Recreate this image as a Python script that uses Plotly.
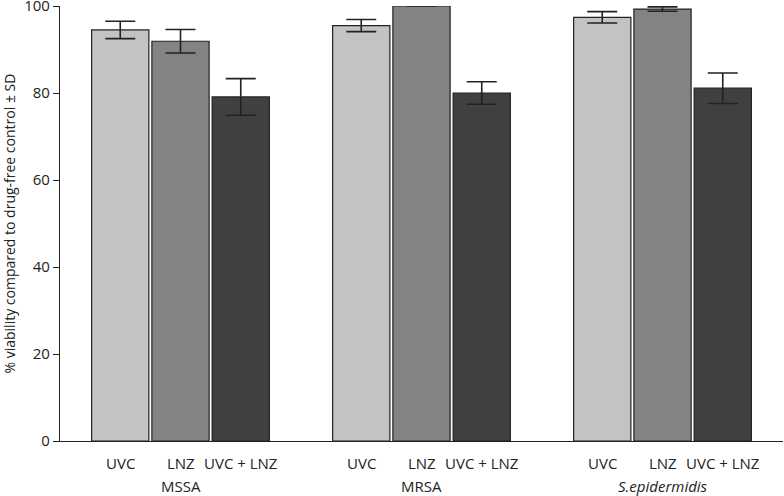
import plotly.graph_objects as go

groups = ["MSSA", "MRSA", "<i>S.epidermidis</i>"]
treatments = ["UVC", "LNZ", "UVC + LNZ"]
colors = ["#c3c3c3", "#838383", "#404040"]
values = {
    "UVC": [94.5, 95.5, 97.4],
    "LNZ": [91.9, 100.0, 99.3],
    "UVC + LNZ": [79.1, 80.0, 81.1],
}
errors = {
    "UVC": [2.0, 1.4, 1.3],
    "LNZ": [2.7, None, 0.5],
    "UVC + LNZ": [4.2, 2.6, 3.5],
}
yticks = [0, 20, 40, 60, 80, 100]
ytitle = "% viability compared to drug-free control ± SD"

FONT = "Open Sans, DejaVu Sans, sans-serif"
INK = "#222222"
fig = go.Figure()
for t, c in zip(treatments, colors):
    fig.add_trace(go.Bar(
        x=list(range(len(groups))), y=values[t], name=t,
        marker=dict(color=c, line=dict(color=INK, width=1.2)),
        error_y=dict(type="data", array=errors[t], visible=True,
                     color=INK, thickness=1.6, width=15),
    ))

ann = []
offsets = [-0.25, 0.0, 0.25]
for gi, g in enumerate(groups):
    for ti, t in enumerate(treatments):
        ann.append(dict(x=gi + offsets[ti], y=0, xref="x", yref="y", text=t,
                        showarrow=False, yanchor="top", yshift=-10,
                        font=dict(size=15, color=INK, family=FONT)))
    ann.append(dict(x=gi, y=0, xref="x", yref="y", text=g,
                    showarrow=False, yanchor="top", yshift=-33,
                    font=dict(size=15, color=INK, family=FONT)))
ann.append(dict(x=0, y=0.5, xref="paper", yref="paper", text=ytitle,
                textangle=-90, showarrow=False, xanchor="center",
                yanchor="middle", xshift=-51,
                font=dict(size=14, color=INK, family=FONT)))

fig.update_layout(
    width=784, height=496,
    margin=dict(l=60, r=1, t=6, b=55),
    paper_bgcolor="white", plot_bgcolor="white",
    barmode="group", bargap=0.25, bargroupgap=0.05,
    showlegend=False,
    annotations=ann,
    font=dict(family=FONT, size=15, color=INK),
    xaxis=dict(range=[-0.5, 2.5], showticklabels=False, ticks="",
               showline=True, linecolor=INK, linewidth=1.2, automargin=False,
               showgrid=False, zeroline=False, fixedrange=True),
    yaxis=dict(range=[0, 100], tickvals=yticks, automargin=False,
               ticks="outside", ticklen=6, tickcolor=INK, tickwidth=1.2,
               showline=True, linecolor=INK, linewidth=1.2,
               showgrid=False, zeroline=False, ticklabeloverflow="allow",
               tickfont=dict(size=15, color=INK)),
)
fig.write_html("out.html", config={"displayModeBar": False},
               post_script="document.body.style.margin='0';document.body.style.padding='0';")
